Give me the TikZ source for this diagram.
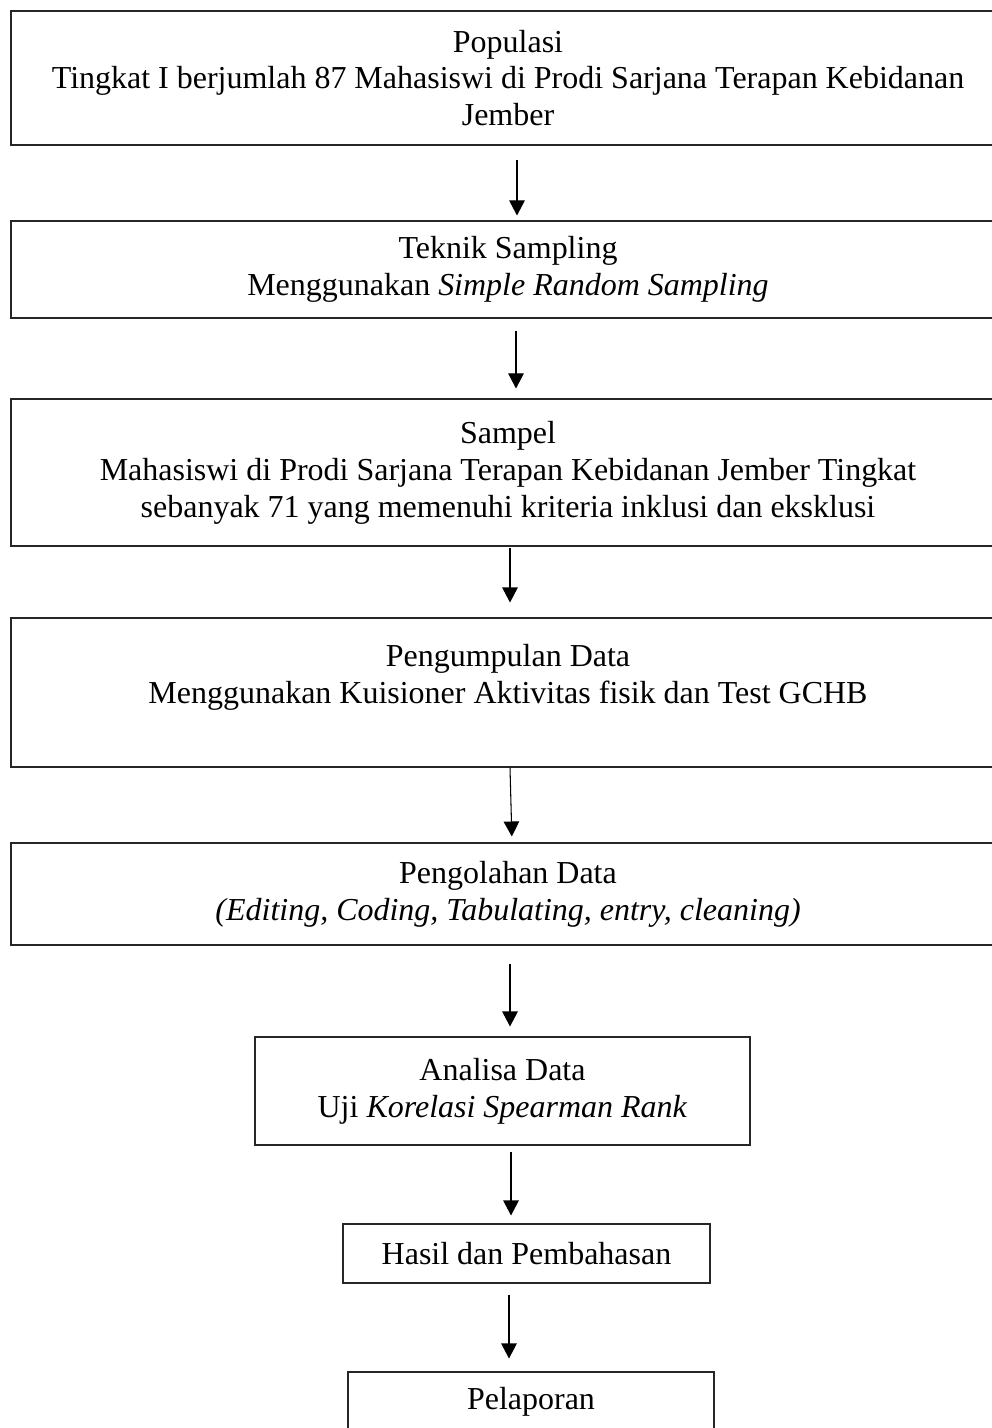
\documentclass[tikz,border=0pt]{standalone}
\usepackage{fontspec}
\setmainfont{Liberation Serif}
\usetikzlibrary{arrows.meta}

\begin{document}
\begin{tikzpicture}[
  stepbox/.style={draw=black!85, line width=0.6pt, inner sep=0pt, align=center,
                  font=\fontsize{18.2}{21}\selectfont},
  widebox/.style={stepbox, minimum width=19.88cm},
  arr/.style={-{Triangle[length=0.3cm, width=0.31cm]}, line width=0.6pt}
]
  \useasboundingbox (0,0) rectangle (19.84,-28.56);
  \clip (0,0) rectangle (19.84,-28.56);

  % ── wide boxes ──
  \node[widebox, minimum height=2.68cm] (pop) at (10.16,-1.56)
    {Populasi\\Tingkat I berjumlah 87 Mahasiswi di Prodi Sarjana Terapan Kebidanan\\Jember};
  \node[widebox, minimum height=1.94cm] (tek) at (10.16,-5.39)
    {Teknik Sampling\\Menggunakan \textit{Simple Random Sampling}};
  \node[widebox, minimum height=2.94cm] (sam) at (10.16,-9.45)
    {Sampel\\Mahasiswi di Prodi Sarjana Terapan Kebidanan Jember Tingkat\\sebanyak 71 yang memenuhi kriteria inklusi dan eksklusi};
  \node[widebox, minimum height=2.98cm] (kum) at (10.16,-13.85)
    {Pengumpulan Data\\Menggunakan Kuisioner Aktivitas fisik dan Test GCHB\\\mbox{}};
  \node[widebox, minimum height=2.04cm] (olah) at (10.16,-17.88)
    {Pengolahan Data\\\textit{(Editing, Coding, Tabulating, entry, cleaning)}};

  % ── narrow boxes ──
  \node[stepbox, minimum width=9.9cm, minimum height=2.16cm] (ana) at (10.05,-21.82)
    {Analisa Data\\Uji \textit{Korelasi Spearman Rank}};
  \node[stepbox, minimum width=7.34cm, minimum height=1.18cm] (has) at (10.53,-25.07)
    {Hasil dan Pembahasan};
  \node[stepbox, minimum width=7.32cm, minimum height=1.18cm] (lap) at (10.62,-28.03)
    {Pelaporan};

  % ── arrows ──
  \draw[arr, shorten <=0.28cm, shorten >=0.1cm]
    ([xshift=0.18cm]pop.south) -- ([xshift=0.18cm]tek.north);
  \draw[arr, shorten <=0.24cm, shorten >=0.2cm]
    ([xshift=0.16cm]tek.south) -- ([xshift=0.16cm]sam.north);
  \draw[arr, shorten <=0.02cm, shorten >=0.3cm]
    ([xshift=0.04cm]sam.south) -- ([xshift=0.04cm]kum.north);
  \draw[arr, shorten >=0.12cm]
    ([xshift=0.04cm]kum.south) -- ([xshift=0.08cm]olah.north);
  \draw[arr, shorten <=0.36cm, shorten >=0.2cm]
    ([xshift=0.04cm]olah.south) -- ([xshift=0.15cm]ana.north);
  \draw[arr, shorten <=0.12cm, shorten >=0.16cm]
    ([xshift=0.17cm]ana.south) -- ([xshift=-0.31cm]has.north);
  \draw[arr, shorten <=0.22cm, shorten >=0.26cm]
    ([xshift=-0.35cm]has.south) -- ([xshift=-0.44cm]lap.north);
\end{tikzpicture}
\end{document}
